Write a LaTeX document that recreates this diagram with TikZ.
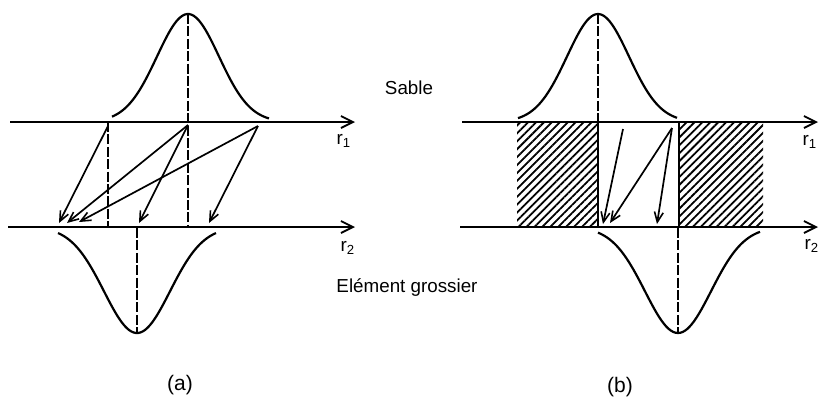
\documentclass[tikz,border=0pt]{standalone}
\usepackage{fontspec}
\setmainfont{Liberation Sans}
\usepackage{tikz}
\usetikzlibrary{arrows.meta, patterns.meta}

\begin{document}
\begin{tikzpicture}[x=0.5pt, y=-0.5pt,
    axisline/.style={line width=1pt, -{Straight Barb[length=6pt, width=6pt, line width=0.9pt]}},
    bell/.style={line width=1.1pt},
    guide/.style={line width=0.8pt, dash pattern=on 5pt off 1.2pt},
    hit/.style={line width=0.85pt, -{Straight Barb[length=5pt, width=4.4pt, line width=0.8pt]}},
    hatch/.style={pattern={Lines[angle=45, distance=2.8pt, line width=0.9pt]}},
    lbl/.style={font=\fontsize{9.4}{11}\selectfont, inner sep=0pt},
    tag/.style={font=\fontsize{10.5}{12}\selectfont, inner sep=0pt}]
  \useasboundingbox (0,0) rectangle (820,397);

  % (a) axes
  \coordinate (a1s) at (10,122);  \coordinate (a1e) at (355,122);
  \coordinate (a2s) at (8,227);   \coordinate (a2e) at (355,227);
  \draw[axisline] (a1s) -- (a1e);
  \draw[axisline] (a2s) -- (a2e);
  \node[lbl] (ra1) at (344,141) {r\textsubscript{1}};
  \node[lbl] (ra2) at (348,248) {r\textsubscript{2}};

  % (a) distributions
  \draw[bell] plot[domain=112:269, samples=70] (\x, {122-108*exp(-((\x-188)*(\x-188))/1922)});
  \draw[bell] plot[domain=58:216, samples=70] (\x, {227+106*exp(-((\x-137)*(\x-137))/2178)});
  \draw[guide] (188,14) -- (188,226);
  \draw[guide] (108,122) -- (108,227);
  \draw[guide] (137,228) -- (137,333);

  % (a) jumps
  \coordinate (pA) at (108,126); \coordinate (pB) at (188,125); \coordinate (pC) at (258,126);
  \coordinate (qA) at (59,223);  \coordinate (qB) at (67,223);  \coordinate (qC) at (79,222);
  \coordinate (qD) at (139,223); \coordinate (qE) at (209,223);
  \draw[hit] (pA) -- (qA);
  \draw[hit] (pB) -- (qB);
  \draw[hit] (pC) -- (qC);
  \draw[hit] (pB) -- (qD);
  \draw[hit] (pC) -- (qE);

  % (b) hatched zones
  \fill[hatch] (517,122) rectangle (598,227);
  \fill[hatch] (679,122) rectangle (763,227);
  \draw[line width=0.9pt] (598,122) -- (598,227);
  \draw[line width=0.9pt] (679,122) -- (679,227);

  % (b) axes
  \coordinate (b1s) at (462,122); \coordinate (b1e) at (818,122);
  \coordinate (b2s) at (460,227); \coordinate (b2e) at (818,227);
  \draw[axisline] (b1s) -- (b1e);
  \draw[axisline] (b2s) -- (b2e);
  \node[lbl] (rb1) at (810,142) {r\textsubscript{1}};
  \node[lbl] (rb2) at (812,246) {r\textsubscript{2}};

  % (b) distributions
  \draw[bell] plot[domain=518:677, samples=70] (\x, {122-108*exp(-((\x-598)*(\x-598))/1922)});
  \draw[bell] plot[domain=598:760, samples=70] (\x, {227+106*exp(-((\x-678)*(\x-678))/2178)});
  \draw[guide] (598,14) -- (598,122);
  \draw[guide] (678,228) -- (678,333);

  % (b) jumps
  \coordinate (pF) at (623,129); \coordinate (pG) at (672,128);
  \coordinate (qF) at (603,224); \coordinate (qG) at (610,223); \coordinate (qH) at (657,224);
  \draw[hit] (pF) -- (qF);
  \draw[hit] (pG) -- (qG);
  \draw[hit] (pG) -- (qH);

  % labels
  \node[lbl] (sable) at (409,88) {Sable};
  \node[lbl] (grossier) at (407,288) {Elément grossier};
  \node[tag] (taga) at (180,385) {(a)};
  \node[tag] (tagb) at (620,387) {(b)};
\end{tikzpicture}
\end{document}
